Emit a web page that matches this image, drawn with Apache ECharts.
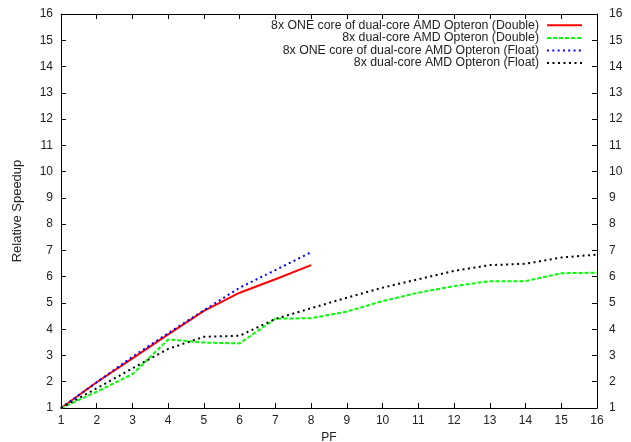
<!DOCTYPE html>
<html>
<head>
<meta charset="utf-8">
<script src="https://cdn.jsdelivr.net/npm/echarts@6/dist/echarts.min.js"></script>
<style>html,body{margin:0;padding:0;background:#fff;overflow:hidden;}#c{width:631px;height:442px;}</style>
</head>
<body>
<div id="c"></div>
<script>
const pf = [1,2,3,4,5,6,7,8,9,10,11,12,13,14,15,16];
const oneCoreDouble = [1,1.98,2.89,3.8,4.7,5.39,5.9,6.44];
const dualCoreDouble = [1,1.62,2.29,3.61,3.49,3.46,4.4,4.42,4.67,5.07,5.39,5.64,5.83,5.83,6.13,6.15];
const oneCoreFloat = [1,1.98,2.95,3.85,4.72,5.58,6.25,6.93];
const dualCoreFloat = [1,1.75,2.51,3.25,3.71,3.75,4.39,4.8,5.2,5.58,5.9,6.22,6.44,6.49,6.73,6.84];
const names = [
  '8x ONE core of dual-core AMD Opteron (Double)',
  '8x dual-core AMD Opteron (Double)',
  '8x ONE core of dual-core AMD Opteron (Float)',
  '8x dual-core AMD Opteron (Float)'
];
const pairs = a => a.map((v,i)=>[pf[i], v]);
const font = 'Liberation Sans, Arial, sans-serif';
const chart = echarts.init(document.getElementById('c'));
const yAx = (pos, margin) => ({
  type:'value', position:pos, min:1, max:16, interval:1,
  axisLine:{show:true, onZero:false, lineStyle:{color:'#000', width:1}},
  axisTick:{show:true, inside:true, length:5, lineStyle:{color:'#000'}},
  axisLabel:{color:'#222', fontFamily:font, fontSize:12, margin:margin},
  splitLine:{show:false}
});
chart.setOption({
  animation:false,
  textStyle:{fontFamily:font},
  grid:{left:61, right:34, top:14, bottom:34, outerBoundsMode:'none', containLabel:false},
  legend:{
    orient:'vertical', right:48, top:19, align:'right', itemGap:0, padding:0,
    itemWidth:35, itemHeight:10,
    itemStyle:{opacity:0},
    textStyle:{fontFamily:font, fontSize:12.3, lineHeight:12.6, color:'#222', padding:[0,3,0,0]},
    data:names
  },
  xAxis:[{
    type:'value', position:'bottom', min:1, max:16, interval:1,
    name:'PF', nameLocation:'middle', nameGap:23,
    nameTextStyle:{fontFamily:font, fontSize:12, color:'#222'},
    axisLine:{show:true, onZero:false, lineStyle:{color:'#000'}},
    axisTick:{show:true, inside:true, length:5, lineStyle:{color:'#000'}},
    axisLabel:{color:'#222', fontFamily:font, fontSize:12, margin:7},
    splitLine:{show:false}
  },{
    type:'value', position:'top', min:1, max:16, interval:1,
    axisLine:{show:true, onZero:false, lineStyle:{color:'#000'}},
    axisTick:{show:true, inside:true, length:5, lineStyle:{color:'#000'}},
    axisLabel:{show:false}, splitLine:{show:false}
  }],
  yAxis:[Object.assign(yAx('left', 8), {
    name:'Relative Speedup', nameLocation:'middle', nameGap:37, nameRotate:90,
    nameTextStyle:{fontFamily:font, fontSize:13, color:'#222'}
  }), yAx('right', 12)],
  series:[
    {name:names[0], type:'line', data:pairs(oneCoreDouble), symbol:'none', lineStyle:{color:'#ff0000', width:2}, itemStyle:{color:'#ff0000'}},
    {name:names[1], type:'line', data:pairs(dualCoreDouble), symbol:'none', lineStyle:{color:'#00ff00', width:2, type:[4,2]}, itemStyle:{color:'#00ff00'}},
    {name:names[2], type:'line', data:pairs(oneCoreFloat), symbol:'none', lineStyle:{color:'#0000ff', width:2, type:[2,3.3]}, itemStyle:{color:'#0000ff'}},
    {name:names[3], type:'line', data:pairs(dualCoreFloat), symbol:'none', lineStyle:{color:'#000000', width:2, type:[2,3.5]}, itemStyle:{color:'#000000'}}
  ]
});
</script>
</body>
</html>
